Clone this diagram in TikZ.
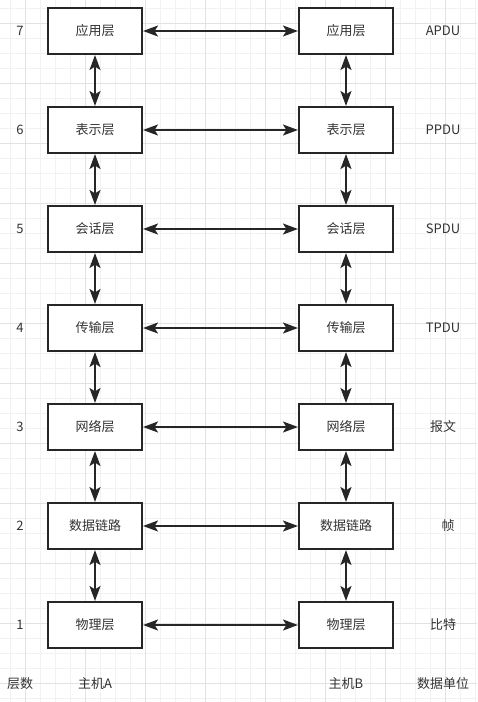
\documentclass[tikz,border=0pt]{standalone}
\usepackage{fontspec}
\setmainfont{Noto Sans CJK SC}
\usetikzlibrary{positioning, arrows.meta}

\definecolor{textgray}{HTML}{333333}
\definecolor{gridminor}{HTML}{F2F2F2}
\definecolor{gridmajor}{HTML}{E2E2E2}

\begin{document}
\begin{tikzpicture}[
    x=1pt, y=-1pt,
    >={Stealth[length=15pt, width=11pt, inset=3.5pt]},
    layer/.style={draw=black!85, line width=1.6pt, fill=white, minimum width=94.5pt, minimum height=46.5pt,
                  inner sep=0pt, text=textgray, font=\fontsize{13}{15}\selectfont},
    tag/.style={text=textgray, inner sep=0pt, font=\fontsize{13}{15}\selectfont},
    link/.style={<->, draw=black!85, line width=1.8pt}
]

    % Page and background grid
    \useasboundingbox (0,0) rectangle (477,702);
    \fill[white] (0,0) rectangle (477,702);
    \foreach \gx in {10,25,...,475} \draw[gridminor, line width=0.6pt] (\gx,0) -- (\gx,702);
    \foreach \gy in {8,23,...,700} \draw[gridminor, line width=0.6pt] (0,\gy) -- (477,\gy);
    \foreach \gx in {25,85,...,475} \draw[gridmajor, line width=0.6pt] (\gx,0) -- (\gx,702);
    \foreach \gy in {23,83,...,700} \draw[gridmajor, line width=0.6pt] (0,\gy) -- (477,\gy);

    % Host A
    \node[layer] (a7) at (95,31) {应用层};
    \node[layer, below=50.9pt of a7] (a6) {表示层};
    \node[layer, below=50.9pt of a6] (a5) {会话层};
    \node[layer, below=50.9pt of a5] (a4) {传输层};
    \node[layer, below=50.9pt of a4] (a3) {网络层};
    \node[layer, below=50.9pt of a3] (a2) {数据链路};
    \node[layer, below=50.9pt of a2] (a1) {物理层};

    % Host B
    \node[layer, right=154.9pt of a7] (b7) {应用层};
    \node[layer, right=154.9pt of a6] (b6) {表示层};
    \node[layer, right=154.9pt of a5] (b5) {会话层};
    \node[layer, right=154.9pt of a4] (b4) {传输层};
    \node[layer, right=154.9pt of a3] (b3) {网络层};
    \node[layer, right=154.9pt of a2] (b2) {数据链路};
    \node[layer, right=154.9pt of a1] (b1) {物理层};

    % Layer numbers
    \node[tag] (n7) at (a7 -| 20,0) {7};
    \node[tag] (n6) at (a6 -| 20,0) {6};
    \node[tag] (n5) at (a5 -| 20,0) {5};
    \node[tag] (n4) at (a4 -| 20,0) {4};
    \node[tag] (n3) at (a3 -| 20,0) {3};
    \node[tag] (n2) at (a2 -| 20,0) {2};
    \node[tag] (n1) at (a1 -| 20,0) {1};

    % Data units
    \node[tag] (u7) at (b7 -| 443,0) {APDU};
    \node[tag] (u6) at (b6 -| 443,0) {PPDU};
    \node[tag] (u5) at (b5 -| 443,0) {SPDU};
    \node[tag] (u4) at (b4 -| 443,0) {TPDU};
    \node[tag] (u3) at (b3 -| 443,0) {报文};
    \node[tag] (u2) at (b2 -| 448,0) {帧};
    \node[tag] (u1) at (b1 -| 443,0) {比特};

    % Column captions
    \node[tag] (cnum) at (20,684) {层数};
    \node[tag] (chostA) at (95,684) {主机A};
    \node[tag] (chostB) at (346,684) {主机B};
    \node[tag] (cunit) at (443,684) {数据单位};

    % Peer links
    \draw[link] (a7) -- (b7);
    \draw[link] (a6) -- (b6);
    \draw[link] (a5) -- (b5);
    \draw[link] (a4) -- (b4);
    \draw[link] (a3) -- (b3);
    \draw[link] (a2) -- (b2);
    \draw[link] (a1) -- (b1);

    % Stack links, host A
    \draw[link] (a7) -- (a6);
    \draw[link] (a6) -- (a5);
    \draw[link] (a5) -- (a4);
    \draw[link] (a4) -- (a3);
    \draw[link] (a3) -- (a2);
    \draw[link] (a2) -- (a1);

    % Stack links, host B
    \draw[link] (b7) -- (b6);
    \draw[link] (b6) -- (b5);
    \draw[link] (b5) -- (b4);
    \draw[link] (b4) -- (b3);
    \draw[link] (b3) -- (b2);
    \draw[link] (b2) -- (b1);

\end{tikzpicture}
\end{document}
